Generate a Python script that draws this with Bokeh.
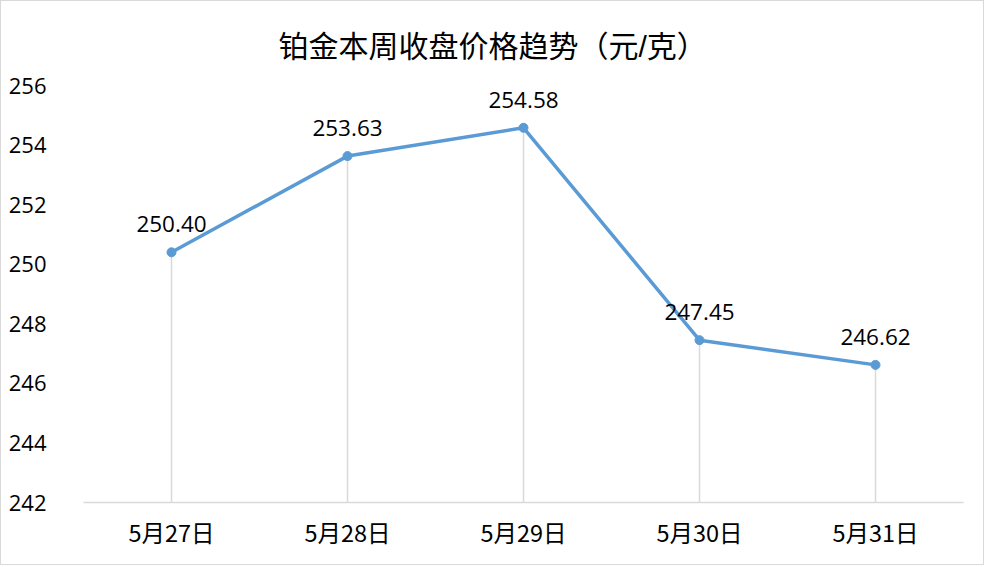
from bokeh.plotting import figure
from bokeh.models import ColumnDataSource, FactorRange, Range1d, FixedTicker
from bokeh.core.properties import value
from bokeh.embed import file_html
from bokeh.resources import INLINE

title_text = "铂金本周收盘价格趋势（元/克）"
dates = ["5月27日", "5月28日", "5月29日", "5月30日", "5月31日"]
prices = [250.40, 253.63, 254.58, 247.45, 246.62]
y_ticks = [242, 244, 246, 248, 250, 252, 254, 256]
y_min, y_max = 242, 256

LINE = "#5B9BD5"
GRID = "#D9D9D9"

src = ColumnDataSource(dict(
    x=dates,
    y=prices,
    base=[y_min] * len(prices),
    lbl=[f"{v:.2f}" for v in prices],
))

p = figure(
    width=984, height=565,
    x_range=FactorRange(*dates),
    y_range=Range1d(y_min, y_max),
    output_backend="svg", toolbar_location=None,
    min_border_left=82, min_border_right=22,
    min_border_top=84, min_border_bottom=64,
    background_fill_color="white", border_fill_color="white",
)
p.styles = {"border": "1px solid #D9D9D9"}
p.outline_line_color = None
p.xgrid.grid_line_color = None
p.ygrid.grid_line_color = None

p.title.text = title_text
p.title.align = "left"
p.title.offset = 195
p.title.standoff = 46
p.title.text_font = "Liberation Sans, Noto Sans CJK SC"
p.title.text_font_size = "30px"
p.title.text_font_style = "normal"
p.title.text_color = "#000000"

# drop lines
p.segment(x0="x", y0="base", x1="x", y1="y", source=src,
          line_color=GRID, line_width=1.5)
# main line
p.line(x="x", y="y", source=src, line_color=LINE, line_width=3.5)
p.scatter(x="x", y="y", source=src, size=9, fill_color=LINE, line_color=LINE)
# data labels
p.text(x="x", y="y", text="lbl", source=src, text_align="center",
       text_baseline="alphabetic", y_offset=-28,
       text_font=value("Open Sans"), text_font_size="22.5px", text_color="#000000")

# axes
p.xaxis.axis_line_color = GRID
p.xaxis.axis_line_width = 1.5
p.xaxis.major_tick_line_color = None
p.xaxis.minor_tick_line_color = None
p.xaxis.major_label_standoff = 6
p.xaxis.major_label_text_font = "Noto Sans CJK SC"
p.xaxis.major_label_text_font_size = "23.5px"
p.xaxis.major_label_text_color = "#000000"

p.yaxis.ticker = FixedTicker(ticks=y_ticks)
p.yaxis.axis_line_color = None
p.yaxis.major_tick_line_color = None
p.yaxis.minor_tick_line_color = None
p.yaxis.major_label_standoff = 31
p.yaxis.major_label_text_font = "Open Sans"
p.yaxis.major_label_text_font_size = "22px"
p.yaxis.major_label_text_color = "#000000"

open("out.html", "w").write(file_html(p, INLINE))
